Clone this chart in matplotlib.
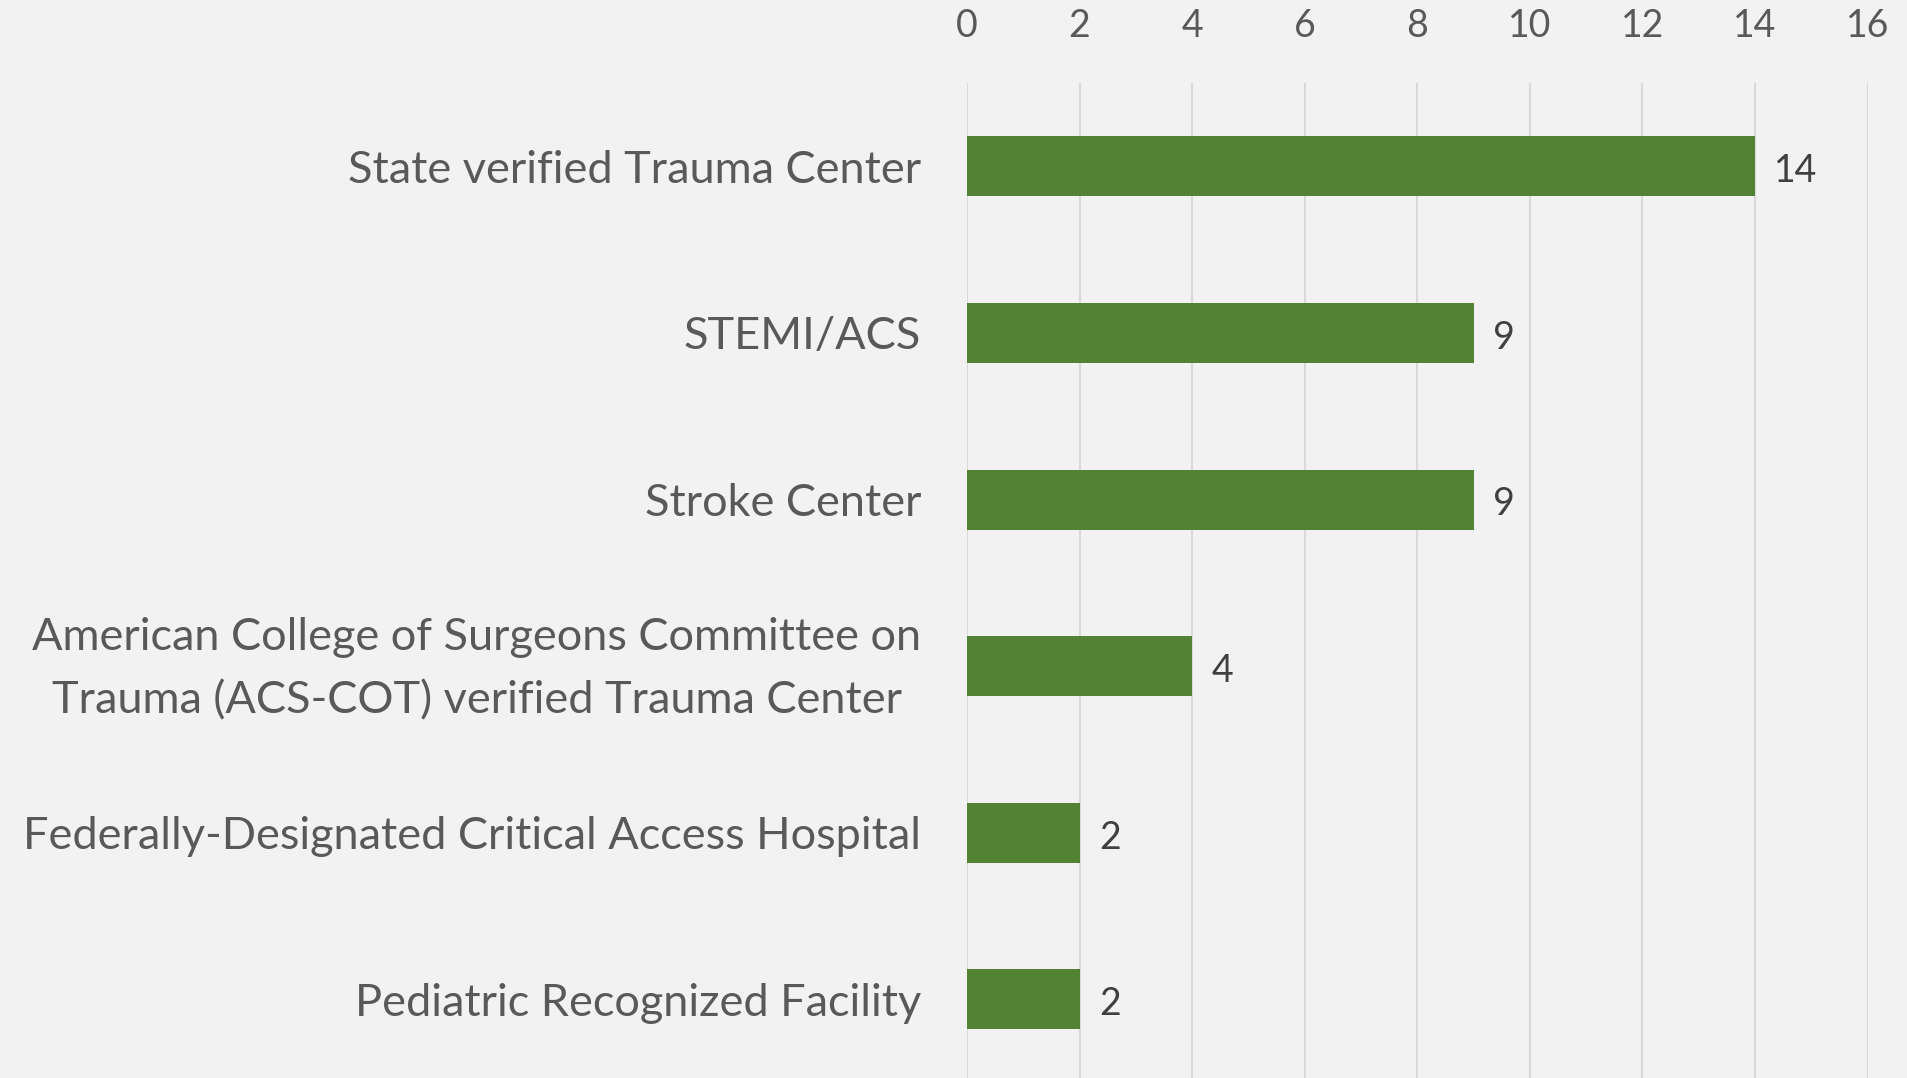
import matplotlib.pyplot as plt
import matplotlib.transforms as mtransforms

categories = [
    'State verified Trauma Center',
    'STEMI/ACS',
    'Stroke Center',
    'American College of Surgeons Committee on\nTrauma (ACS-COT) verified Trauma Center',
    'Federally-Designated Critical Access Hospital',
    'Pediatric Recognized Facility',
]
counts = [14, 9, 9, 4, 2, 2]
x_ticks = [0, 2, 4, 6, 8, 10, 12, 14, 16]

BG = '#f2f2f2'
BAR = '#548235'
GRID = '#d9d9d9'
TXT = '#595959'
VAL = '#404040'
FONT = 'Lato'

fig = plt.figure(figsize=(19.08, 10.78), dpi=100)
fig.patch.set_facecolor(BG)
ax = fig.add_axes([0.5068, 0.0, 0.472, 0.923])
ax.set_facecolor(BG)

pos = list(range(len(categories)))
ax.barh(pos, counts, height=0.36, color=BAR, zorder=3)

ax.set_xlim(0, 16)
ax.set_ylim(5.472, -0.5)
ax.set_xticks(x_ticks)
ax.set_xticklabels([str(t) for t in x_ticks], fontsize=27, color=TXT, family=FONT)
ax.xaxis.tick_top()
ax.tick_params(axis='x', length=0, pad=28)
ax.set_yticks(pos)
ax.set_yticklabels(categories, fontsize=32.5, color=TXT, family=FONT)
for lbl in ax.get_yticklabels():
    lbl.set_multialignment('center')
    lbl.set_linespacing(1.65)
ax.tick_params(axis='y', length=0, pad=33)

# two-line label sits a touch high in the original
shift = mtransforms.ScaledTranslation(0, 8.5 / 72, fig.dpi_scale_trans)
two_line = ax.get_yticklabels()[3]
two_line.set_transform(two_line.get_transform() + shift)

ax.grid(axis='x', color=GRID, linewidth=1.5, zorder=0)
ax.grid(axis='y', visible=False)
for s in ax.spines.values():
    s.set_visible(False)

# value labels at bar ends
for p, v in zip(pos, counts):
    ax.annotate(str(v), xy=(v, p), xytext=(14, -3.5), textcoords='offset points',
                ha='left', va='center', fontsize=27, color=VAL, family=FONT)

fig.savefig('out.png', dpi=100, facecolor=BG)
